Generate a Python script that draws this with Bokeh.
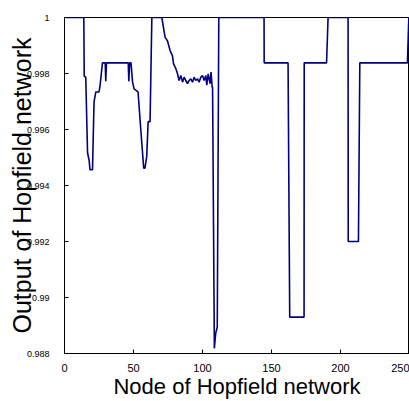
from bokeh.plotting import figure
from bokeh.models import FixedTicker, Range1d
from bokeh.embed import file_html
from bokeh.resources import INLINE

node = [1, 14, 14.3, 15.4, 16.7, 17.8, 18.5, 20.3, 21.4, 22.7, 25.0, 25.8, 27.5,
        29.5, 29.9, 30.4, 46.2, 46.6, 47.2, 48.2, 49.3, 50.4, 53.3, 55.3, 57.4,
        58.3, 59.6, 60.6, 62.0, 63.3, 70.5, 72.9, 74.6, 76.5, 78.2, 79.0, 80.7,
        81.9, 83.0, 84.3, 85.5, 86.7, 87.9, 89.1, 90.3, 91.5, 92.8, 93.9, 95.1,
        96.4, 97.5, 98.8, 100.0, 101.2, 102.4, 103.1, 104.1, 105.5, 106.2, 107.0,
        107.3, 108.6, 109.5, 110.7, 111.8, 144.6, 144.7, 162.0, 163.2, 173.6,
        173.7, 189.9, 191.0, 205.5, 205.6, 213.0, 214.0, 248.5, 249.5, 250]
output = [1.0, 1.0, 0.99790, 0.99787, 0.99517, 0.99491, 0.99456, 0.99456, 0.99699,
          0.99734, 0.99734, 0.99758, 0.99838, 0.99838, 0.99772, 0.99838, 0.99838,
          0.99772, 0.99838, 0.99838, 0.99770, 0.99745, 0.99734, 0.99598, 0.99462,
          0.99462, 0.99504, 0.99628, 0.99628, 1.0, 1.0, 0.99929, 0.99917, 0.99882,
          0.99864, 0.99835, 0.99817, 0.99799, 0.99775, 0.99793, 0.99769, 0.99787,
          0.99775, 0.99764, 0.99775, 0.99781, 0.99769, 0.99787, 0.99775, 0.99781,
          0.99769, 0.99787, 0.99793, 0.99775, 0.99793, 0.99758, 0.99799, 0.99764,
          0.99805, 0.99752, 0.99750, 0.98818, 0.98870, 0.98895, 1.0, 1.0, 0.99838,
          0.99838, 0.98930, 0.98930, 0.99838, 0.99838, 1.0, 1.0, 0.99200, 0.99200,
          0.99838, 0.99838, 1.0, 1.0]

x_ticks = [0, 50, 100, 150, 200, 250]
y_ticks = [0.988, 0.99, 0.992, 0.994, 0.996, 0.998, 1.0]
y_tick_labels = ["0.988", "0.99", "0.992", "0.994", "0.996", "0.998", "1"]
x_title = "Node of Hopfield network"
y_title = "Output of Hopfield network"

FONT = "Liberation Sans"

p = figure(width=409, height=401, output_backend="svg", toolbar_location=None,
           x_range=Range1d(0, 250), y_range=Range1d(0.988, 1.0),
           min_border_left=64, min_border_right=0, min_border_top=17,
           min_border_bottom=46, background_fill_color="white",
           border_fill_color="white")

p.line(node, output, line_color="#000080", line_width=1.6)

p.xgrid.visible = False
p.ygrid.visible = False
p.outline_line_color = "black"
p.outline_line_width = 1

p.xaxis.ticker = FixedTicker(ticks=x_ticks)
p.yaxis.ticker = FixedTicker(ticks=y_ticks)
p.yaxis.major_label_overrides = {t: s for t, s in zip(y_ticks, y_tick_labels)}

for ax in (p.xaxis[0], p.yaxis[0]):
    ax.axis_line_color = "black"
    ax.major_tick_in = 4
    ax.major_tick_out = 0
    ax.minor_tick_line_color = None
    ax.major_tick_line_color = "black"
    ax.major_label_text_font = FONT
    ax.major_label_text_color = "black"
    ax.axis_label_text_font = FONT
    ax.axis_label_text_font_style = "normal"
    ax.axis_label_text_color = "black"

p.xaxis.axis_label_text_font_size = "22px"
p.yaxis.axis_label_text_font_size = "25px"
p.xaxis.major_label_text_font_size = "11px"
p.yaxis.major_label_text_font_size = "9px"
p.xaxis.major_label_standoff = 10
p.yaxis.major_label_standoff = 15
p.xaxis.axis_label = x_title
p.yaxis.axis_label = y_title
p.xaxis.axis_label_standoff = -1
p.yaxis.axis_label_standoff = -12

open("out.html", "w").write(file_html(p, INLINE))
